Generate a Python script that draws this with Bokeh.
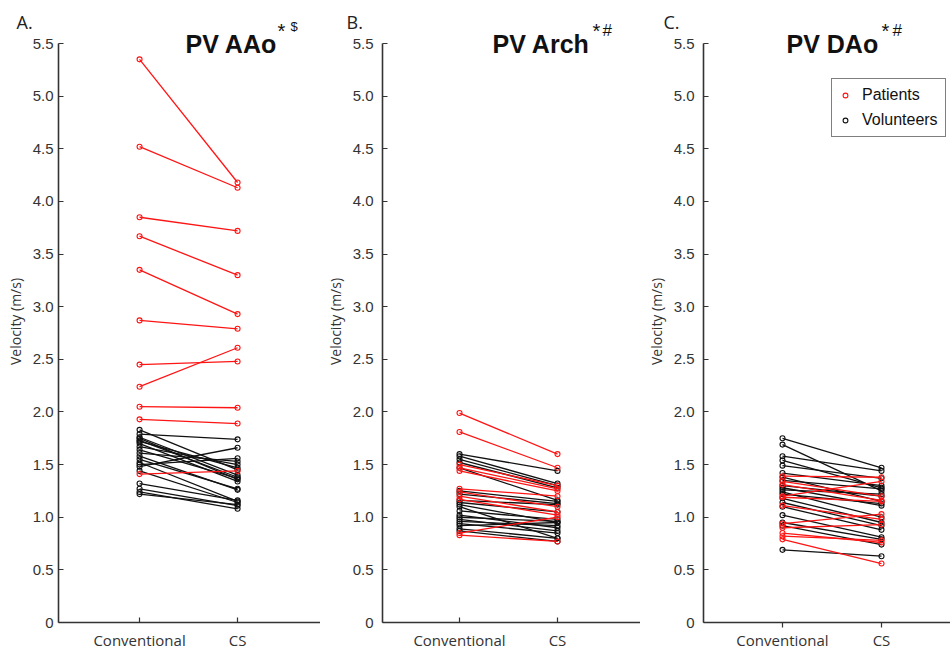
from bokeh.plotting import figure
from bokeh.layouts import row
from bokeh.models import (Range1d, Label, Legend, LegendItem, FixedTicker,
                          CustomJSTickFormatter)
from bokeh.embed import file_html
from bokeh.resources import INLINE

# ---------------- data ----------------
x_labels = ["Conventional", "CS"]
y_ticks = [0, 0.5, 1.0, 1.5, 2.0, 2.5, 3.0, 3.5, 4.0, 4.5, 5.0, 5.5]

A_pat_conv = [5.35, 4.52, 3.85, 3.67, 3.35, 2.87, 2.45, 2.24, 2.05, 1.93, 1.41]
A_pat_cs   = [4.18, 4.13, 3.72, 3.30, 2.93, 2.79, 2.48, 2.61, 2.04, 1.89, 1.44]
A_vol_conv = [1.83, 1.79, 1.76, 1.75, 1.73, 1.72, 1.70, 1.67, 1.64, 1.61,
              1.58, 1.55, 1.52, 1.50, 1.48, 1.44, 1.32, 1.27, 1.24, 1.22]
A_vol_cs   = [1.45, 1.74, 1.40, 1.36, 1.38, 1.47, 1.34, 1.50, 1.37, 1.53,
              1.26, 1.27, 1.15, 1.56, 1.66, 1.14, 1.16, 1.11, 1.08, 1.12]

B_pat_conv = [1.99, 1.81, 1.50, 1.47, 1.44, 1.27, 1.24, 1.20, 1.17, 0.85, 0.83]
B_pat_cs   = [1.60, 1.47, 1.30, 1.27, 1.25, 1.20, 1.10, 1.05, 1.02, 1.00, 0.77]
B_vol_conv = [1.60, 1.58, 1.55, 1.52, 1.47, 1.25, 1.22, 1.16, 1.14, 1.12,
              1.10, 1.06, 1.02, 1.00, 0.98, 0.96, 0.94, 0.92, 0.89, 0.87]
B_vol_cs   = [1.44, 1.32, 1.30, 1.28, 1.16, 1.15, 1.13, 1.12, 1.05, 0.95,
              0.80, 0.98, 0.90, 0.96, 0.87, 0.92, 0.85, 0.95, 0.80, 0.77]

C_pat_conv = [1.39, 1.34, 1.31, 1.20, 1.19, 1.11, 0.94, 0.90, 0.85, 0.82, 0.79]
C_pat_cs   = [1.38, 1.20, 1.16, 1.34, 1.15, 0.98, 1.03, 0.93, 0.76, 0.78, 0.56]
C_vol_conv = [1.75, 1.69, 1.58, 1.54, 1.49, 1.42, 1.38, 1.35, 1.30, 1.28,
              1.26, 1.24, 1.22, 1.18, 1.14, 1.10, 1.02, 0.95, 0.92, 0.69]
C_vol_cs   = [1.47, 1.25, 1.44, 1.28, 1.37, 1.30, 1.15, 1.27, 1.20, 1.11,
              1.22, 1.00, 1.13, 0.95, 0.92, 0.88, 0.81, 0.79, 0.74, 0.63]

RED = "#ff1414"
BLACK = "#111111"
AX = "#333333"
Y_END = 5.719


def make_panel(pat_conv, pat_cs, vol_conv, vol_cs, letter, title, mark2, mark2_size,
               width, left, xr, tick_standoff, letter_x, title_x, star_x, mark2_x,
               mark2_y, xtick_out=False, legend=False):
    p = figure(width=width, height=652, output_backend="svg", toolbar_location=None,
               x_range=Range1d(*xr), y_range=Range1d(0, Y_END),
               min_border_left=left, min_border_right=0,
               min_border_top=20, min_border_bottom=30)
    p.outline_line_color = None
    p.grid.visible = False
    p.background_fill_color = "white"
    p.border_fill_color = "white"

    # panel letter as the figure title (left of the frame)
    p.title.text = letter
    p.title.align = "left"
    p.title.offset = letter_x
    p.title.standoff = -26
    p.title.text_font = "Open Sans"
    p.title.text_font_size = "18px"
    p.title.text_font_style = "normal"
    p.title.text_color = "#222222"

    # volunteers first, then patients
    p.multi_line(xs=[[1, 2] for _ in vol_conv],
                 ys=[[a, b] for a, b in zip(vol_conv, vol_cs)],
                 line_color=BLACK, line_width=1.3)
    vs = p.scatter(x=[1] * len(vol_conv) + [2] * len(vol_cs), y=vol_conv + vol_cs,
                   marker="circle", size=5, fill_color=None,
                   line_color=BLACK, line_width=1.1)
    p.multi_line(xs=[[1, 2] for _ in pat_conv],
                 ys=[[a, b] for a, b in zip(pat_conv, pat_cs)],
                 line_color=RED, line_width=1.3)
    ps = p.scatter(x=[1] * len(pat_conv) + [2] * len(pat_cs), y=pat_conv + pat_cs,
                   marker="circle", size=5, fill_color=None,
                   line_color=RED, line_width=1.1)

    # axes
    for ax in (p.xaxis[0], p.yaxis[0]):
        ax.axis_line_color = AX
        ax.axis_line_width = 1.6
        ax.major_tick_line_color = AX
        ax.major_tick_line_width = 1.2
        ax.minor_tick_line_color = None
        ax.major_label_text_color = "#333333"
        ax.major_tick_in = 5
        ax.major_tick_out = 0

    ya = p.yaxis[0]
    ya.bounds = (0, 5.5)
    ya.ticker = FixedTicker(ticks=y_ticks)
    ya.formatter = CustomJSTickFormatter(code="return tick == 0 ? '0' : tick.toFixed(1);")
    ya.major_label_standoff = tick_standoff
    ya.major_label_text_font = "Liberation Sans"
    ya.major_label_text_font_size = "15px"
    ya.axis_label = "Velocity (m/s)"
    ya.axis_label_text_font = "Open Sans"
    ya.axis_label_text_font_size = "14px"
    ya.axis_label_text_font_style = "normal"
    ya.axis_label_text_color = "#333333"
    ya.axis_label_standoff = 5

    xa = p.xaxis[0]
    xa.ticker = FixedTicker(ticks=[1, 2])
    xa.major_label_overrides = {1: x_labels[0], 2: x_labels[1]}
    if xtick_out:
        xa.major_tick_in = 0
        xa.major_tick_out = 5
        xa.major_label_standoff = 2
    else:
        xa.major_label_standoff = 7
    xa.major_label_text_font = "Open Sans"
    xa.major_label_text_font_size = "15px"

    # title and superscripts inside the frame (screen units from frame bottom-left)
    p.add_layout(Label(x=title_x, y=579, x_units="screen", y_units="screen",
                       text=title, text_font="Liberation Sans", text_font_style="bold",
                       text_font_size="25px", text_color="#111111",
                       text_baseline="alphabetic"))
    p.add_layout(Label(x=star_x, y=592, x_units="screen", y_units="screen",
                       text="*", text_font="Liberation Sans",
                       text_font_size="20px", text_color="#111111",
                       text_baseline="alphabetic"))
    p.add_layout(Label(x=mark2_x, y=mark2_y, x_units="screen", y_units="screen",
                       text=mark2, text_font="Liberation Sans",
                       text_font_size=mark2_size, text_color="#111111",
                       text_baseline="alphabetic"))

    if legend:
        lg = Legend(items=[LegendItem(label="Patients", renderers=[ps]),
                           LegendItem(label="Volunteers", renderers=[vs])],
                    location=(128, 485))
        lg.label_text_font = "Liberation Sans"
        lg.label_text_font_size = "16px"
        lg.label_text_color = "#111111"
        lg.label_height = 18
        lg.glyph_height = 18
        lg.glyph_width = 12
        lg.label_standoff = 11
        lg.spacing = 7
        lg.padding = 7
        lg.margin = 0
        lg.border_line_color = "black"
        lg.border_line_width = 1.2
        lg.background_fill_color = "white"
        lg.background_fill_alpha = 1
        p.add_layout(lg, "center")
    return p


pA = make_panel(A_pat_conv, A_pat_cs, A_vol_conv, A_vol_cs, "A.", "PV AAo", "$", "13px",
                320, 58, (0.173, 2.846), 5, -42, 127, 219, 232, 596)
pB = make_panel(B_pat_conv, B_pat_cs, B_vol_conv, B_vol_cs, "B.", "PV Arch", "#", "17px",
                320, 62, (0.214, 2.847), 9, -36, 110, 210, 220, 592)
pC = make_panel(C_pat_conv, C_pat_cs, C_vol_conv, C_vol_cs, "C.", "PV DAo", "#", "17px",
                310, 63, (0.202, 2.697), 9, -40, 83, 178, 189, 592,
                xtick_out=True, legend=True)

layout = row(pA, pB, pC)
open("out.html", "w").write(file_html(layout, INLINE))
